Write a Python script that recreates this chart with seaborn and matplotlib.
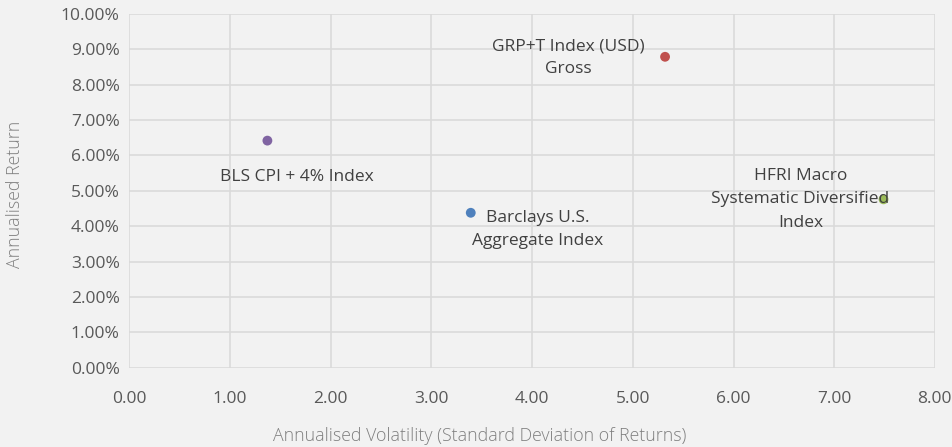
import matplotlib
matplotlib.use('Agg')
import pandas as pd
import matplotlib.pyplot as plt
import seaborn as sns
from matplotlib.ticker import FuncFormatter, MultipleLocator

# Values
names = ['BLS CPI + 4% Index', 'Barclays U.S.\nAggregate Index',
         'GRP+T Index (USD)\nGross', 'HFRI Macro\nSystematic Diversified\nIndex']
volatility = [1.37, 3.39, 5.32, 7.49]
returns = [6.42, 4.38, 8.79, 4.76]
colors = ['#8064A2', '#4F81BD', '#C0504D', '#9BBB59']
label_offsets = [(29, -36), (67, -17), (-97, -1), (-83, 0)]

df = pd.DataFrame({'name': names, 'vol': volatility, 'ret': returns})

sns.set_style('white')
plt.rcParams['font.family'] = ['Open Sans', 'DejaVu Sans']

bg = '#F2F2F2'
fig = plt.figure(figsize=(9.52, 4.47), dpi=100, facecolor=bg)
ax = fig.add_axes([0.136, 0.1774, 0.846, 0.7913])
ax.set_facecolor(bg)

sns.scatterplot(data=df, x='vol', y='ret', hue='name', palette=colors,
                s=50, edgecolor='none', legend=False, ax=ax, zorder=3)

for n, x, y, off in zip(names, volatility, returns, label_offsets):
    ax.annotate(n, xy=(x, y), xytext=off, textcoords='offset pixels',
                ha='center', va='center', fontsize=12.5, color='#404040',
                linespacing=1.6, zorder=4)

ax.set_xlim(0, 8)
ax.set_ylim(0, 10)
ax.xaxis.set_major_locator(MultipleLocator(1))
ax.yaxis.set_major_locator(MultipleLocator(1))
ax.xaxis.set_major_formatter(FuncFormatter(lambda v, p: f'{v:.2f}'))
ax.yaxis.set_major_formatter(FuncFormatter(lambda v, p: f'{v:.2f}%'))
ax.tick_params(length=0, labelsize=12.5, labelcolor='#595959', pad=7)
ax.tick_params(axis='x', pad=17)

ax.grid(True, color='#D9D9D9', linewidth=1.1)
ax.set_axisbelow(True)
for s in ax.spines.values():
    s.set_visible(False)

ax.set_xlabel('Annualised Volatility (Standard Deviation of Returns)',
              fontsize=12.8, color='#7F7F7F', va='center', fontweight='light')
ax.set_ylabel('Annualised Return', fontsize=12.8, color='#7F7F7F',
              va='center', fontweight='light')
ax.xaxis.set_label_coords((480 - 129.5) / 805.5, -(436 - 367.7) / 353.7)
ax.yaxis.set_label_coords(-(129.5 - 15) / 805.5, (367.7 - 194) / 353.7)

fig.savefig('out.png', dpi=100, facecolor=bg)
